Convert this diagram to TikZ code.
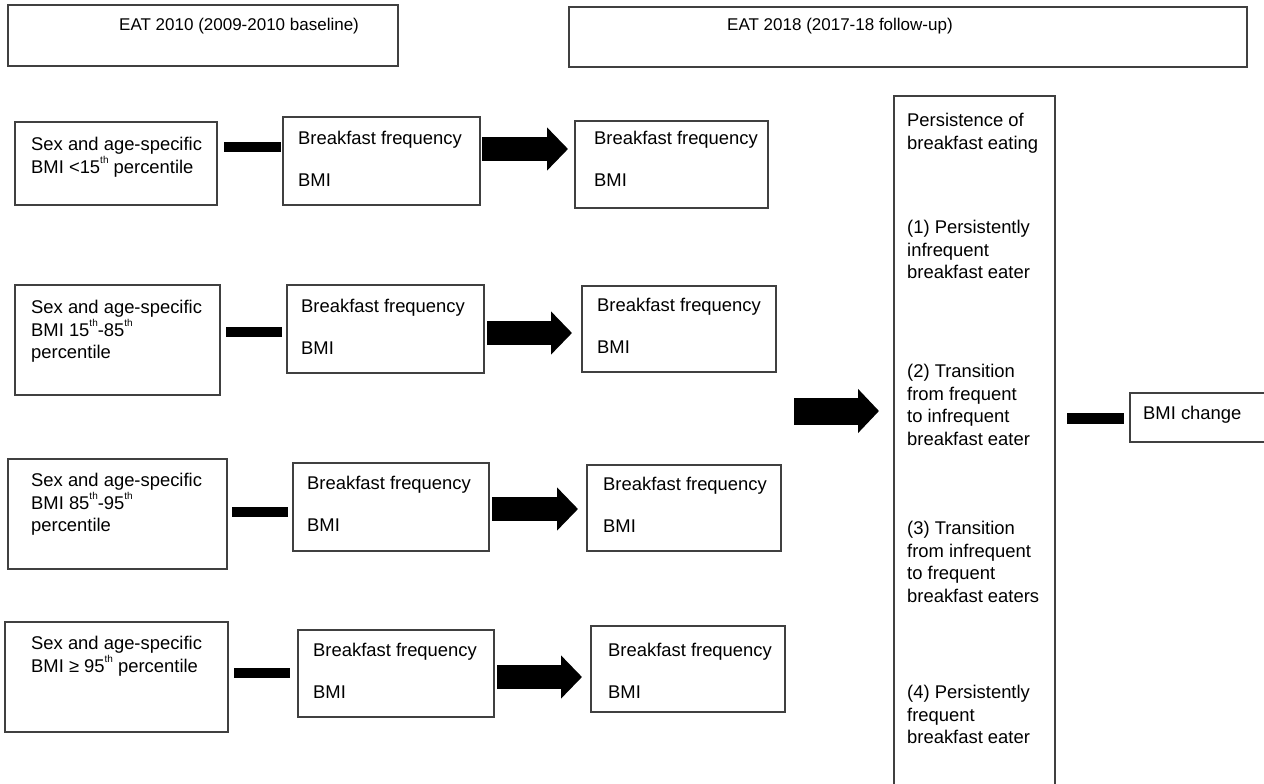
\documentclass[tikz,border=0pt]{standalone}
\usepackage{fontspec}
\setmainfont{Liberation Sans}
\usetikzlibrary{arrows.meta,calc}
\newcommand{\thsup}[1]{\raisebox{0.5em}{\fontsize{10}{10}\selectfont #1}}
\begin{document}
\begin{tikzpicture}[x=1pt,y=-1pt,
  box/.style={draw=black!75, line width=1.3pt, rectangle, inner sep=0pt, outer sep=0pt, anchor=north west},
  txt/.style={anchor=base west, align=left, inner sep=0pt, font=\fontsize{18.4}{22.5}\selectfont},
  htxt/.style={anchor=base west, inner sep=0pt, font=\fontsize{17}{20}\selectfont},
  bar/.style={line width=10pt, draw=black, line cap=butt},
  blk/.style={draw=black, line width=24pt, -{Triangle[length=21pt,width=42pt]}}]
\useasboundingbox (0,0) rectangle (1264,784);
\clip (0,0) rectangle (1264,784);
\fill[white] (0,0) rectangle (1264,784);

% headers
\node[box, minimum width=390pt, minimum height=61pt] (H1) at (8,5) {};
\node[box, minimum width=678pt, minimum height=60pt] (H2) at (569,7) {};
\node[htxt] (h1t) at (119,31) {EAT 2010 (2009-2010 baseline)};
\node[htxt] (h2t) at (727,31) {EAT 2018 (2017-18 follow-up)};

% left column (anchor = baseline of last line)
\node[box, minimum width=202pt, minimum height=83pt] (L1) at (15,122) {};
\node[box, minimum width=205pt, minimum height=110pt] (L2) at (15,285) {};
\node[box, minimum width=219pt, minimum height=110pt] (L3) at (8,459) {};
\node[box, minimum width=223pt, minimum height=110pt] (L4) at (5,622) {};
\node[txt] (l1t) at (31,173) {Sex and age-specific\\BMI <15\thsup{th} percentile};
\node[txt] (l2t) at (31,358.5) {Sex and age-specific\\BMI 15\thsup{th}-85\thsup{th}\\percentile};
\node[txt] (l3t) at (31,531.5) {Sex and age-specific\\BMI 85\thsup{th}-95\thsup{th}\\percentile};
\node[txt] (l4t) at (31,672) {Sex and age-specific\\BMI ≥ 95\thsup{th} percentile};

% middle column
\node[box, minimum width=197pt, minimum height=88pt] (M1) at (283,117) {};
\node[box, minimum width=197pt, minimum height=88pt] (M2) at (287,285) {};
\node[box, minimum width=196pt, minimum height=88pt] (M3) at (293,463) {};
\node[box, minimum width=196pt, minimum height=87pt] (M4) at (298,630) {};
\node[txt] (m1t) at (298,186.5) {Breakfast frequency\\[19.5pt]BMI};
\node[txt] (m2t) at (301,354.5) {Breakfast frequency\\[19.5pt]BMI};
\node[txt] (m3t) at (307,531.5) {Breakfast frequency\\[19.5pt]BMI};
\node[txt] (m4t) at (313,698.5) {Breakfast frequency\\[19.5pt]BMI};

% right column
\node[box, minimum width=193pt, minimum height=87pt] (R1) at (575,121) {};
\node[box, minimum width=194pt, minimum height=86pt] (R2) at (582,286) {};
\node[box, minimum width=194pt, minimum height=86pt] (R3) at (587,465) {};
\node[box, minimum width=194pt, minimum height=86pt] (R4) at (591,626) {};
\node[txt] (r1t) at (594,186.5) {Breakfast frequency\\[19.5pt]BMI};
\node[txt] (r2t) at (597,353.5) {Breakfast frequency\\[19.5pt]BMI};
\node[txt] (r3t) at (603,532.5) {Breakfast frequency\\[19.5pt]BMI};
\node[txt] (r4t) at (608,698.5) {Breakfast frequency\\[19.5pt]BMI};

% tall box
\node[box, minimum width=161pt, minimum height=720pt] (T) at (894,96) {};
\node[txt] (t0) at (907,149) {Persistence of\\breakfast eating};
\node[txt] (t1) at (907,278.5) {(1) Persistently\\infrequent\\breakfast eater};
\node[txt] (t2) at (907,445) {(2) Transition\\from frequent\\to infrequent\\breakfast eater};
\node[txt] (t3) at (907,602) {(3) Transition\\from infrequent\\to frequent\\breakfast eaters};
\node[txt] (t4) at (907,743.5) {(4) Persistently\\frequent\\breakfast eater};

% BMI change
\node[box, minimum width=150pt, minimum height=49pt] (B) at (1130,393) {};
\node[txt] (bt) at (1143,419.5) {BMI change};

% bars
\draw[bar, shorten <=7pt, shorten >=2pt] (L1.east |- 0,147) -- (M1.west |- 0,147);
\draw[bar, shorten <=6pt, shorten >=5pt] (L2.east |- 0,332) -- (M2.west |- 0,332);
\draw[bar, shorten <=5pt, shorten >=5pt] (L3.east |- 0,512) -- (M3.west |- 0,512);
\draw[bar, shorten <=6pt, shorten >=8pt] (L4.east |- 0,673) -- (M4.west |- 0,673);
\draw[bar, line width=11pt, shorten <=12pt, shorten >=6pt] (T.east |- 0,418) -- (B.west |- 0,418);

% block arrows
\draw[blk, shorten <=2pt, shorten >=7pt] (M1.east |- 0,149) -- (R1.west |- 0,149);
\draw[blk, shorten <=3pt, shorten >=10pt] (M2.east |- 0,333) -- (R2.west |- 0,333);
\draw[blk, shorten <=3pt, shorten >=9pt] (M3.east |- 0,509) -- (R3.west |- 0,509);
\draw[blk, shorten <=3pt, shorten >=9pt] (M4.east |- 0,677) -- (R4.west |- 0,677);
\coordinate (bs) at (794,411);
\draw[blk, line width=27pt, -{Triangle[length=21pt,width=43pt]}, shorten >=15pt] (bs) -- (T.west |- bs);
\end{tikzpicture}
\end{document}
